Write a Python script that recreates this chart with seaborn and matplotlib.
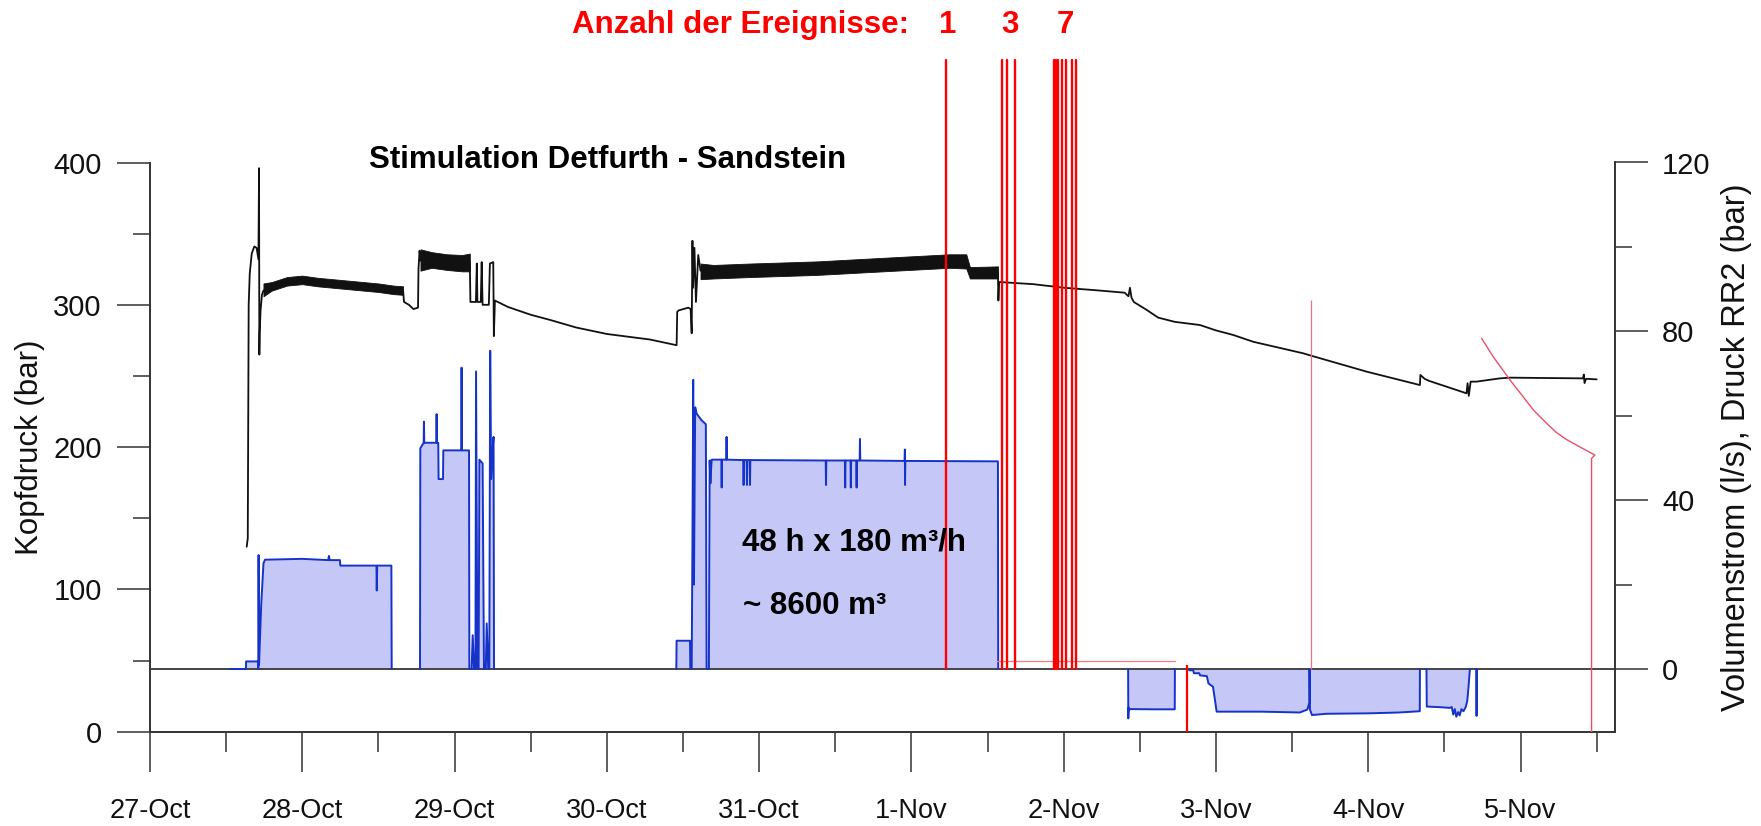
import matplotlib
matplotlib.use("Agg")
import matplotlib.pyplot as plt
import matplotlib.transforms as mtransforms
import numpy as np
import pandas as pd
import seaborn as sns

sns.set_style("ticks")
plt.rcParams["font.family"] = ["Liberation Sans", "DejaVu Sans"]

W, H = 1761, 826

# ---------------- data (time in days since 27-Oct 00:00) ----------------
day_labels = ["27-Oct", "28-Oct", "29-Oct", "30-Oct", "31-Oct",
              "1-Nov", "2-Nov", "3-Nov", "4-Nov", "5-Nov"]

# Kopfdruck (bar), left axis
kopf_t = [0.635, 0.642, 0.648, 0.655, 0.668, 0.685, 0.700, 0.712, 0.716, 0.718, 0.720, 0.726, 0.735, 0.745,
          0.80, 0.90, 1.00, 1.10, 1.20, 1.30, 1.40, 1.50, 1.60, 1.662,
          1.668, 1.70, 1.73, 1.760, 1.763, 1.770, 1.776,
          1.85, 1.95, 2.05, 2.100,
          2.104, 2.140, 2.146, 2.150, 2.172, 2.178, 2.184, 2.225, 2.232, 2.254, 2.258, 2.265,
          2.35, 2.50, 2.626, 2.80, 3.00, 3.283, 3.458,
          3.462, 3.470, 3.535, 3.550, 3.557, 3.562, 3.566, 3.575, 3.585, 3.600, 3.615,
          3.70, 3.94, 4.38, 4.81, 5.25, 5.36, 5.384, 5.568,
          5.571, 5.576, 5.80, 6.00, 6.238, 6.40, 6.425, 6.435, 6.445, 6.46, 6.545, 6.62, 6.73,
          6.894, 7.00, 7.113, 7.245, 7.573, 7.61, 7.99, 8.339,
          8.342, 8.37, 8.40, 8.645, 8.652, 8.660, 8.672, 8.71, 8.864, 8.93, 9.41, 9.415, 9.42, 9.43, 9.50]
kopf_p = [130, 136, 300, 322, 336, 341, 340, 332, 396, 265, 280, 296, 307, 310,
          313, 316.5, 317.5, 316, 315, 314, 313, 312, 310.5, 310,
          302, 300, 297, 298, 325, 338, 331,
          332, 330, 329.5, 330,
          302, 302, 329, 302, 302, 330, 300, 300, 329, 330, 278, 303,
          298.5, 293, 289.4, 284, 279.5, 275.6, 271.6,
          295, 296, 298, 297, 280, 345, 312, 340, 302, 335, 324,
          323, 324, 325.5, 328, 330.5, 330, 322.6, 322.6,
          303, 316, 314.5, 312, 310, 308.5, 306, 312, 305, 302, 296.4, 291, 288,
          285.8, 282, 278.8, 274, 265.9, 264.7, 253, 243.6,
          250.7, 248, 246.5, 237.8, 244.9, 236, 246, 246, 248.3, 248.8, 248.3, 251, 245, 248, 247.6]

# noisy parts of the Kopfdruck trace (lower / upper envelope)
band1_t = [0.745, 0.80, 0.90, 1.00, 1.10, 1.20, 1.30, 1.40, 1.50, 1.60, 1.662]
band1_lo = [306, 310, 313.5, 314.5, 313, 312, 311, 310, 309, 307.5, 307]
band1_hi = [315, 316, 319.5, 320.5, 319, 318, 317, 316, 315, 313.5, 313]
band2_t = [1.776, 1.85, 1.95, 2.05, 2.100]
band2_lo = [324, 326, 324.5, 323.5, 323.5]
band2_hi = [339, 337, 335.5, 335, 336]
band3_t = [3.615, 3.70, 3.94, 4.38, 4.81, 5.25, 5.36, 5.384, 5.568]
band3_lo = [318, 318.5, 319.5, 321, 323.5, 326, 325.5, 318.5, 318.5]
band3_hi = [329, 328, 329, 330.5, 333, 335.5, 335.5, 326.5, 327]

# Volumenstrom (l/s), right axis, one list per pumping block
b1_t = [0.525, 0.630, 0.631, 0.710, 0.711, 0.713, 0.716, 0.730, 0.745, 0.755, 1.00, 1.17, 1.175,
        1.18, 1.247, 1.250, 1.487, 1.489, 1.492, 1.585, 1.587]
b1_q = [0, 0, 1.8, 1.8, 0, 27, 1, 15, 25, 25.9, 26.1, 25.8, 26.8,
        25.8, 25.8, 24.5, 24.5, 18.6, 24.5, 24.5, 0]
b2_t = [1.773, 1.775, 1.797, 1.799, 1.801, 1.880, 1.882, 1.884, 1.893, 1.895, 1.924, 1.926,
        2.044, 2.046, 2.048, 2.095, 2.097, 2.112, 2.119, 2.128, 2.137, 2.141, 2.150, 2.158,
        2.163, 2.184, 2.193, 2.205, 2.211, 2.221, 2.228, 2.234, 2.240, 2.250, 2.256, 2.259]
b2_q = [0, 52.3, 53.6, 58.6, 53.6, 53.6, 60.4, 53.6, 53.6, 45, 45, 51.8,
        51.8, 71.4, 51.8, 51.8, 0, 0, 8, 0, 0, 70.5, 0, 0,
        49.6, 48.7, 0, 0, 10.8, 0, 0, 75.4, 45, 52, 55, 0]
b3_t = [3.456, 3.458, 3.546, 3.548, 3.557, 3.562, 3.567, 3.572, 3.580, 3.590, 3.620, 3.650, 3.655,
        3.670, 3.675, 3.680, 3.688, 3.752, 3.754, 3.756, 3.784, 3.786, 3.788, 3.896, 3.898, 3.900,
        3.918, 3.920, 3.922, 3.938, 3.940, 3.942, 4.437, 4.439, 4.441, 4.563, 4.565, 4.567, 4.600,
        4.602, 4.604, 4.638, 4.640, 4.642, 4.660, 4.662, 4.664, 4.955, 4.957, 4.958, 4.960, 5.568, 5.570]
b3_q = [0, 6.7, 6.7, 0, 0, 30, 68.5, 20, 62, 60.5, 59, 58, 0,
        0, 49.4, 44, 49.6, 49.6, 43, 49.6, 49.6, 55, 49.6, 49.5, 43.6, 49.5,
        49.5, 43.6, 49.5, 49.5, 43.6, 49.5, 49.4, 43.6, 49.4, 49.4, 43, 49.4, 49.4,
        43, 49.4, 49.4, 43, 49.4, 49.4, 54.5, 49.4, 49.3, 52, 43.6, 49.3, 49.2, 0]
b4_t = [6.423, 6.424, 6.427, 6.430, 6.44, 6.60, 6.729, 6.730]
b4_q = [0, -11.7, -9.1, -9.6, -9.5, -9.55, -9.55, 0]
b5_t = [6.822, 6.824, 6.850, 6.855, 6.890, 6.895, 6.940, 6.950, 6.980, 6.993, 7.004, 7.30, 7.55,
        7.60, 7.613, 7.614, 7.617, 7.63, 7.727, 8.00, 8.20, 8.338, 8.339]
b5_q = [0, -0.3, -0.3, -1.0, -1.0, -1.5, -1.7, -3.4, -4.2, -7.3, -10.1, -10.1, -10.3,
        -9.6, -8.0, 0, -9.6, -10.9, -10.6, -10.5, -10.3, -10.0, 0]
b6_t = [8.382, 8.384, 8.45, 8.535, 8.548, 8.558, 8.568, 8.578, 8.59, 8.60, 8.612, 8.625, 8.640,
        8.650, 8.658, 8.667]
b6_q = [0, -8.9, -9.0, -9.2, -9.0, -10.8, -9.5, -11.3, -10.2, -11.0, -9.5, -10.0, -9.0,
        -7.5, -4.3, 0]
b7_t = [8.709, 8.711, 8.713]
b7_q = [0, -11.1, 0]

# seismic events (vertical red lines) and their groups
event_t = [5.228, 5.597, 5.627, 5.681, 5.938, 5.950, 5.962, 5.990, 6.017, 6.054, 6.081]
event_group = [0, 1, 1, 1, 2, 2, 2, 2, 2, 2, 2]

# Druck RR2 (bar), right axis
rr2_t = [8.744, 8.820, 8.930, 9.017, 9.083, 9.171, 9.236, 9.300, 9.400, 9.488, 9.466, 9.466]
rr2_q = [78.35, 74.0, 68.5, 64.5, 61.4, 58.2, 56.0, 54.4, 52.4, 50.7, 49.9, -14.85]

# other thin red marks
mark_h_t = [5.559, 6.73]
mark_h_q = [2.0, 2.0]
mark_v1_t, mark_v1_q = 6.811, (-14.85, 1.0)
mark_v2_t, mark_v2_q = 7.621, (0.0, 87.4)

# ---------------- styling ----------------
BLACK = "#111111"
BLUE = "#1633c9"
FILL = "#c5c7f6"
RED = "#ff0000"
PINK = "#e8506a"
AXC = "#333333"

fig = plt.figure(figsize=(W / 100, H / 100), dpi=100)
ax = fig.add_axes([150 / W, 1 - 731.7 / H, 1465 / W, 569.2 / H])
ax2 = ax.twinx()

# Kopfdruck
for bt, blo, bhi in [(band1_t, band1_lo, band1_hi), (band2_t, band2_lo, band2_hi),
                     (band3_t, band3_lo, band3_hi)]:
    ax.fill_between(bt, blo, bhi, color=BLACK, linewidth=0.6, edgecolor=BLACK)
sns.lineplot(x=kopf_t, y=kopf_p, ax=ax, estimator=None, sort=False,
             color=BLACK, linewidth=1.3)

# Volumenstrom
blocks = [(b1_t, b1_q), (b2_t, b2_q), (b3_t, b3_q), (b4_t, b4_q),
          (b5_t, b5_q), (b6_t, b6_q), (b7_t, b7_q)]
for bt, bq in blocks:
    ax2.fill_between(bt, bq, 0, color=FILL, linewidth=0, zorder=1)
ax2.axhline(0, color="#444444", linewidth=1.4, zorder=1.5)
flow_df = pd.concat([pd.DataFrame({"t": bt, "q": bq, "seg": i})
                     for i, (bt, bq) in enumerate(blocks)], ignore_index=True)
sns.lineplot(data=flow_df, x="t", y="q", units="seg", estimator=None, sort=False,
             ax=ax2, color=BLUE, linewidth=1.4)

# Druck RR2 and other red marks
sns.lineplot(x=rr2_t, y=rr2_q, ax=ax2, estimator=None, sort=False, color=PINK, linewidth=1.0)
ax2.plot(mark_h_t, mark_h_q, color="#f08080", linewidth=0.9)
ax2.vlines(mark_v1_t, *mark_v1_q, color=RED, linewidth=1.6)
ax2.vlines(mark_v2_t, *mark_v2_q, color="#f07080", linewidth=0.9)

# limits
ax.set_xlim(0, 9.62)
ax.set_ylim(0, 400)
ax2.set_ylim(-14.85, 120)

# event lines reaching above the plot
ylo, yhi = ax2.get_ylim()
y0frac = (0 - ylo) / (yhi - ylo)
for t in event_t:
    ax2.axvline(t, ymin=y0frac, ymax=1.18, color=RED, linewidth=1.7, clip_on=False, zorder=6)

# event counts
trans = mtransforms.blended_transform_factory(ax2.transData, fig.transFigure)
groups = sorted(set(event_group))
for g in groups:
    ts = [t for t, gg in zip(event_t, event_group) if gg == g]
    ax2.text(np.mean(ts) + 0.01, 1 - 25 / H, str(len(ts)), transform=trans, ha="center",
             va="center", fontsize=22.5, fontweight="bold", color=RED)
fig.text(909.5 / W, 1 - 25 / H, "Anzahl der Ereignisse:", ha="right", va="center",
         fontsize=22.5, fontweight="bold", color=RED)

fig.text(607.5 / W, 1 - 159.5 / H, "Stimulation Detfurth - Sandstein", ha="center",
         va="center", fontsize=22.5, fontweight="bold", color="black")
ax2.text(3.887, 30.0, "48 h x 180 m³/h", ha="left", va="center", fontsize=22.5,
         fontweight="bold", color="black", zorder=7)
ax2.text(3.895, 15.0, "~ 8600 m³", ha="left", va="center", fontsize=22.5,
         fontweight="bold", color="black", zorder=7)

# ticks
ax.set_xticks(np.arange(len(day_labels)))
ax.set_xticklabels(day_labels)
ax.set_xticks(np.arange(len(day_labels)) + 0.5, minor=True)
ax.tick_params(axis="x", which="major", bottom=True, length=28.8, width=1.1, pad=19,
               labelsize=19.5, color=AXC, labelcolor="#111111")
ax.tick_params(axis="x", which="minor", bottom=True, length=14.4, width=1.1, color=AXC)
ax.set_yticks([0, 100, 200, 300, 400])
ax.set_yticks([50, 150, 250, 350], minor=True)
ax.tick_params(axis="y", which="major", left=True, length=23.8, width=1.1, pad=11,
               labelsize=21, color=AXC, labelcolor="#111111")
ax.tick_params(axis="y", which="minor", left=True, length=12.2, width=1.1, color=AXC)
ax2.set_yticks([0, 40, 80, 120])
ax2.set_yticks([20, 60, 100], minor=True)
ax2.tick_params(axis="y", which="major", right=True, length=23.8, width=1.1, pad=10,
                labelsize=21, color=AXC, labelcolor="#111111")
ax2.tick_params(axis="y", which="minor", right=True, length=12.2, width=1.1, color=AXC)

# spines
for s in ["top", "right"]:
    ax.spines[s].set_visible(False)
for s in ["top", "left", "bottom"]:
    ax2.spines[s].set_visible(False)
for s in ["left", "bottom"]:
    ax.spines[s].set_color(AXC)
    ax.spines[s].set_linewidth(1.4)
ax2.spines["right"].set_color(AXC)
ax2.spines["right"].set_linewidth(1.4)

# labels
ax.set_xlabel("")
ax2.set_xlabel("")
ax.set_ylabel("Kopfdruck (bar)", fontsize=22.5, color="#111111")
ax2.set_ylabel("Volumenstrom (l/s), Druck RR2 (bar)", fontsize=23.5, color="#111111")
ax.yaxis.set_label_coords((30 - 150) / 1465, 0.5)
ax2.yaxis.set_label_coords((1736 - 150) / 1465, 0.5)
ax.yaxis.label.set_verticalalignment("center")
ax2.yaxis.label.set_verticalalignment("center")

fig.savefig("out.png", dpi=100)
